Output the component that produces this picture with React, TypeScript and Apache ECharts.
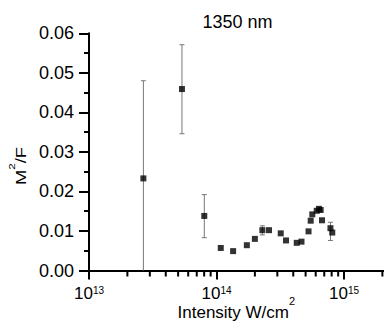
import React, { useEffect, useRef } from "react";
import * as echarts from "echarts";

// Intensity (W/cm^2) and M^2/F values
const intensity = [
  2.67e13, 5.36e13, 8.02e13, 1.08e14, 1.35e14, 1.73e14, 2.0e14, 2.29e14,
  2.58e14, 3.19e14, 3.51e14, 4.26e14, 4.64e14, 5.27e14, 5.48e14, 5.64e14,
  6.11e14, 6.36e14, 6.56e14, 6.72e14, 7.83e14, 8.09e14,
];
const m2f = [
  0.0233, 0.0459, 0.0138, 0.0057, 0.0049, 0.0064, 0.008, 0.0102, 0.0102,
  0.0094, 0.0076, 0.007, 0.0073, 0.0099, 0.0126, 0.0142, 0.0151, 0.0156,
  0.0153, 0.0127, 0.0107, 0.0096,
];

// Error bars
const errIntensity = [2.67e13, 5.36e13, 8.02e13, 2.29e14, 7.83e14];
const errLow = [-0.0014, 0.0346, 0.0083, 0.009, 0.0076];
const errHigh = [0.048, 0.0571, 0.0192, 0.0113, 0.0122];

// Minor ticks of the logarithmic x axis
const xMinorTicks = [
  2e13, 3e13, 4e13, 5e13, 6e13, 7e13, 8e13, 9e13,
  2e14, 3e14, 4e14, 5e14, 6e14, 7e14, 8e14, 9e14,
  2e15, 3e15, 4e15, 5e15, 6e15, 7e15, 8e15, 9e15,
];

const titleText = "1350 nm";
const xTitle = "Intensity W/cm";
const xTitleSup = "2";
const FONT = "Liberation Sans, Arial, sans-serif";

export default function App() {
  const ref = useRef<HTMLDivElement>(null);

  useEffect(() => {
    if (!ref.current) return;
    const chart = echarts.init(ref.current, null, { renderer: "svg" });

    const option: any = {
      animation: false,
      backgroundColor: "#ffffff",
      textStyle: { fontFamily: FONT },
      grid: {
        left: 89,
        top: 33.3,
        right: -87.5,
        bottom: 51.5,
        containLabel: false,
        outerBoundsMode: "none",
      },
      xAxis: {
        type: "log",
        logBase: 10,
        min: 1e13,
        max: 1e16,
        axisLine: { show: true, onZero: false, lineStyle: { color: "#000", width: 2 } },
        axisTick: { show: true, inside: false, length: 9, lineStyle: { color: "#000", width: 2 } },
        splitLine: { show: false },
        axisLabel: {
          show: true,
          margin: 15,
          showMaxLabel: false,
          color: "#000",
          formatter: (v: number) => {
            const e = v > 1000 ? Math.round(Math.log10(v)) : Math.round(v);
            return `{b|10}{s|${e}}`;
          },
          rich: {
            b: { fontSize: 17, lineHeight: 16, fontFamily: FONT, color: "#000" },
            s: { fontSize: 10, lineHeight: 5, verticalAlign: "top", fontFamily: FONT, color: "#000" },
          },
        },
      },
      yAxis: {
        type: "value",
        min: 0,
        max: 0.06,
        interval: 0.01,
        axisLine: { show: true, onZero: false, lineStyle: { color: "#000", width: 2 } },
        axisTick: { show: true, inside: false, length: 10, lineStyle: { color: "#000", width: 2 } },
        minorTick: { show: true, splitNumber: 2, length: 5, lineStyle: { color: "#000", width: 2 } },
        splitLine: { show: false },
        minorSplitLine: { show: false },
        axisLabel: {
          margin: 15,
          fontSize: 18,
          color: "#000",
          fontFamily: FONT,
          formatter: (v: number) => v.toFixed(2),
        },
      },
      series: [
        {
          type: "custom",
          name: "minorTicks",
          clip: false,
          silent: true,
          data: xMinorTicks.map((v) => [v, 0]),
          encode: { x: 0, y: 1 },
          renderItem: (params: any, api: any) => {
            const p = api.coord([api.value(0), 0]);
            return {
              type: "line",
              shape: { x1: p[0], y1: p[1], x2: p[0], y2: p[1] + 6 },
              style: { stroke: "#000", lineWidth: 2 },
            };
          },
        },
        {
          type: "custom",
          name: "errors",
          clip: true,
          silent: true,
          data: errIntensity.map((x, i) => [x, errLow[i], errHigh[i]]),
          encode: { x: 0, y: [1, 2] },
          renderItem: (params: any, api: any) => {
            const lo = api.coord([api.value(0), api.value(1)]);
            const hi = api.coord([api.value(0), api.value(2)]);
            const w = 2.5;
            const st = { stroke: "#777", lineWidth: 1 };
            return {
              type: "group",
              children: [
                { type: "line", shape: { x1: lo[0], y1: lo[1], x2: hi[0], y2: hi[1] }, style: st },
                { type: "line", shape: { x1: hi[0] - w, y1: hi[1], x2: hi[0] + w, y2: hi[1] }, style: st },
                { type: "line", shape: { x1: lo[0] - w, y1: lo[1], x2: lo[0] + w, y2: lo[1] }, style: st },
              ],
            };
          },
        },
        {
          type: "scatter",
          name: "M2/F",
          symbol: "rect",
          symbolSize: 6,
          itemStyle: { color: "#000" },
          data: intensity.map((x, i) => [x, m2f[i]]),
        },
      ],
      graphic: [
        {
          type: "text",
          x: 237.5,
          y: 21.5,
          style: {
            text: titleText,
            fontSize: 18,
            fontFamily: FONT,
            fill: "#000",
            align: "center",
            verticalAlign: "middle",
          },
        },
        {
          type: "text",
          x: 289,
          y: 312.3,
          style: {
            text: xTitle,
            fontSize: 17,
            lineHeight: 14,
            fontFamily: FONT,
            fill: "#000",
            align: "right",
            verticalAlign: "middle",
          },
        },
        {
          type: "text",
          x: 289,
          y: 301,
          style: {
            text: xTitleSup,
            fontSize: 11,
            lineHeight: 9,
            fontFamily: FONT,
            fill: "#000",
            align: "left",
            verticalAlign: "middle",
          },
        },
        {
          type: "text",
          x: 20.5,
          y: 166,
          rotation: Math.PI / 2,
          scaleX: 1.3,
          style: {
            text: "{a|M}{s|2}{a|/F}",
            align: "center",
            verticalAlign: "middle",
            rich: {
              a: { fontSize: 14, lineHeight: 26, fontFamily: FONT, fill: "#000" },
              s: { fontSize: 9, lineHeight: 9, verticalAlign: "top", fontFamily: FONT, fill: "#000" },
            },
          },
        },
      ],
    };

    chart.setOption(option);
    return () => chart.dispose();
  }, []);

  return (
    <div
      ref={ref}
      style={{ position: "fixed", left: 0, top: 0, width: 384, height: 322, background: "#fff" }}
    />
  );
}
